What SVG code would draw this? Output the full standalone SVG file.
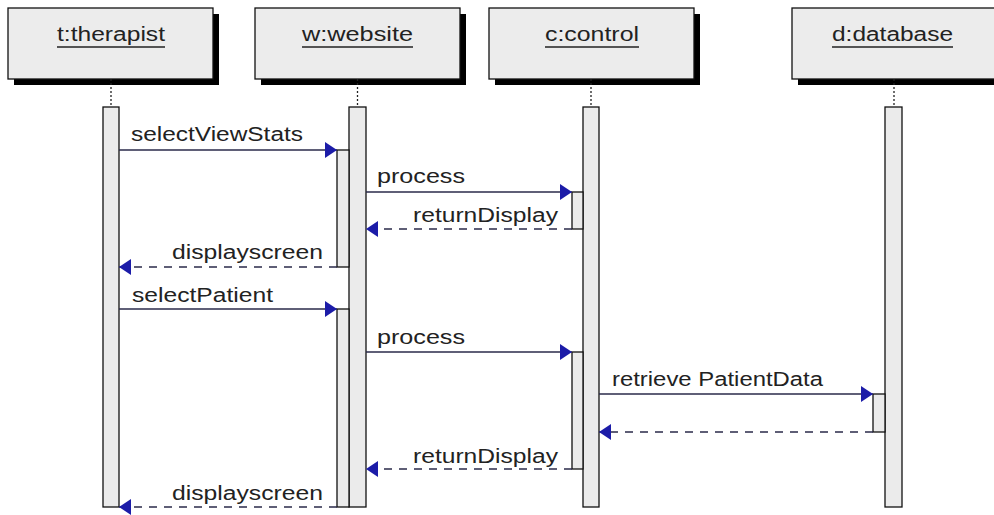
<svg xmlns="http://www.w3.org/2000/svg" width="994" height="515" viewBox="0 0 994 515">
<defs>
<style>
.box{fill:#ececec;stroke:#111;stroke-width:1.3}
.shadow{fill:#000}
.hdr{font-family:"Liberation Sans",Arial,sans-serif;font-size:20px;fill:#222}
.ul{stroke:#222;stroke-width:1.5}
.life{stroke:#222;stroke-width:1.3;stroke-dasharray:2,2}
.bar{fill:#ebebeb;stroke:#111;stroke-width:1.3}
.msg{stroke:#2a2a4a;stroke-width:1.3;fill:none}
.ret{stroke:#2a2a4a;stroke-width:1.3;fill:none;stroke-dasharray:8,7}
.lbl{font-family:"Liberation Sans",Arial,sans-serif;font-size:20px;fill:#222}
</style>
<marker id="ah" markerUnits="userSpaceOnUse" markerWidth="13" markerHeight="18" refX="12" refY="9" orient="auto">
<path d="M0,1 L12,9 L0,17 Z" fill="#1c1ca8"/>
</marker>
</defs>

<g id="therapist">
<rect class="shadow" x="14" y="14" width="205" height="71"/>
<rect class="box" x="8" y="8" width="205" height="71"/>
<text class="hdr" x="57" y="41" textLength="108" lengthAdjust="spacingAndGlyphs">t:therapist</text>
<line class="ul" x1="57" y1="47" x2="165" y2="47"/>
<line class="life" x1="111" y1="79" x2="111" y2="107"/>
<rect class="bar" x="103" y="107" width="16" height="400"/>
</g>

<g id="website">
<rect class="shadow" x="261" y="14" width="205" height="71"/>
<rect class="box" x="255" y="8" width="205" height="71"/>
<text class="hdr" x="302" y="41" textLength="111" lengthAdjust="spacingAndGlyphs">w:website</text>
<line class="ul" x1="302" y1="47" x2="413" y2="47"/>
<line class="life" x1="357.5" y1="79" x2="357.5" y2="107"/>
<rect class="bar" x="349" y="107" width="17" height="400"/>
<rect class="bar" x="337" y="150" width="12" height="117"/>
<rect class="bar" x="337" y="309" width="12" height="198"/>
</g>

<g id="control">
<rect class="shadow" x="495" y="14" width="205" height="71"/>
<rect class="box" x="489" y="8" width="205" height="71"/>
<text class="hdr" x="545" y="41" textLength="94" lengthAdjust="spacingAndGlyphs">c:control</text>
<line class="ul" x1="545" y1="47" x2="639" y2="47"/>
<line class="life" x1="591" y1="79" x2="591" y2="107"/>
<rect class="bar" x="583" y="107" width="16" height="400"/>
<rect class="bar" x="572" y="192" width="11" height="37"/>
<rect class="bar" x="572" y="352" width="11" height="117"/>
</g>

<g id="database">
<rect class="shadow" x="798" y="14" width="205" height="71"/>
<rect class="box" x="792" y="8" width="205" height="71"/>
<text class="hdr" x="832" y="41" textLength="121" lengthAdjust="spacingAndGlyphs">d:database</text>
<line class="ul" x1="832" y1="47" x2="953" y2="47"/>
<line class="life" x1="894" y1="79" x2="894" y2="107"/>
<rect class="bar" x="885" y="107" width="17" height="400"/>
<rect class="bar" x="873" y="394" width="12" height="38"/>
</g>

<g id="connectors">
<line class="msg" x1="119" y1="150" x2="337" y2="150" marker-end="url(#ah)"/>
<text class="lbl" x="131" y="141" textLength="172" lengthAdjust="spacingAndGlyphs">selectViewStats</text>

<line class="msg" x1="366" y1="192" x2="572" y2="192" marker-end="url(#ah)"/>
<text class="lbl" x="377" y="183" textLength="88" lengthAdjust="spacingAndGlyphs">process</text>

<line class="ret" x1="572" y1="229" x2="366" y2="229" marker-end="url(#ah)"/>
<text class="lbl" x="413" y="222" textLength="145" lengthAdjust="spacingAndGlyphs">returnDisplay</text>

<line class="ret" x1="337" y1="267" x2="119" y2="267" marker-end="url(#ah)"/>
<text class="lbl" x="172" y="259" textLength="151" lengthAdjust="spacingAndGlyphs">displayscreen</text>

<line class="msg" x1="119" y1="309" x2="337" y2="309" marker-end="url(#ah)"/>
<text class="lbl" x="132" y="302" textLength="141" lengthAdjust="spacingAndGlyphs">selectPatient</text>

<line class="msg" x1="366" y1="352" x2="572" y2="352" marker-end="url(#ah)"/>
<text class="lbl" x="377" y="344" textLength="88" lengthAdjust="spacingAndGlyphs">process</text>

<line class="msg" x1="599" y1="394" x2="873" y2="394" marker-end="url(#ah)"/>
<text class="lbl" x="612" y="386" textLength="211" lengthAdjust="spacingAndGlyphs">retrieve PatientData</text>

<line class="ret" x1="873" y1="432" x2="599" y2="432" marker-end="url(#ah)"/>

<line class="ret" x1="572" y1="469" x2="366" y2="469" marker-end="url(#ah)"/>
<text class="lbl" x="413" y="463" textLength="145" lengthAdjust="spacingAndGlyphs">returnDisplay</text>

<line class="ret" x1="337" y1="507" x2="119" y2="507" marker-end="url(#ah)"/>
<text class="lbl" x="172" y="500" textLength="151" lengthAdjust="spacingAndGlyphs">displayscreen</text>
</g>
</svg>
